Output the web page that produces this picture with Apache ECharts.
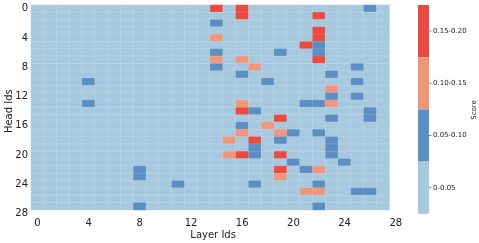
<!DOCTYPE html>
<html>
<head>
<meta charset="utf-8">
<script src="https://cdn.jsdelivr.net/npm/echarts@6/dist/echarts.min.js"></script>
<style>
html,body{margin:0;padding:0;background:#fff;}
#c{width:479px;height:243px;}
</style>
</head>
<body>
<div id="c"></div>
<script>
// Axis categories (tick positions 0..28; cells 0..27)
const layerIds = Array.from({length: 29}, (_, i) => String(i));
const headIds = Array.from({length: 29}, (_, i) => String(i));
const nLayers = 28;
const nHeads = 28;

// Background score for all cells not listed below (0-0.05 band)
const baseScore = 0.02;

// Cells: [layer, head, score]
const blueCells = [
  [26,0,0.07],[14,2,0.07],[22,5,0.07],[14,6,0.07],[19,6,0.07],[22,6,0.07],
  [14,8,0.07],[25,8,0.07],[16,9,0.07],[23,9,0.07],[4,10,0.07],[18,10,0.07],
  [25,10,0.07],[23,12,0.07],[25,12,0.07],[4,13,0.07],[21,13,0.07],[22,13,0.07],
  [17,14,0.07],[26,14,0.07],[23,15,0.07],[26,15,0.07],[16,16,0.07],[20,17,0.07],
  [22,17,0.07],[19,18,0.07],[23,18,0.07],[17,19,0.07],[23,19,0.07],[17,20,0.07],
  [23,20,0.07],[20,21,0.07],[24,21,0.07],[8,22,0.07],[21,22,0.07],[8,23,0.07],
  [11,24,0.07],[17,24,0.07],[22,24,0.07],[25,25,0.07],[26,25,0.07],[8,27,0.07],
  [22,27,0.07]
];
const salmonCells = [
  [14,4,0.12],[14,7,0.12],[16,7,0.12],[17,8,0.12],[23,11,0.12],[16,13,0.12],
  [23,13,0.12],[18,16,0.12],[16,17,0.12],[19,17,0.12],[15,18,0.12],[15,20,0.12],
  [22,22,0.12],[19,23,0.12],[21,25,0.12],[22,25,0.12]
];
const redCells = [
  [14,0,0.17],[16,0,0.17],[16,1,0.17],[22,1,0.17],[22,3,0.17],[22,4,0.17],
  [21,5,0.17],[22,7,0.17],[16,14,0.17],[19,15,0.17],[17,18,0.17],[16,20,0.17],
  [19,20,0.17],[19,22,0.17]
];

const bandLabels = ['0-0.05', '0.05-0.10', '0.10-0.15', '0.15-0.20'];
const bandEdges = [0, 0.05, 0.10, 0.15, 0.20];
const bandColors = ['#a6c9df', '#5b8fc3', '#f0977b', '#eb4a40'];

// Build heatmap data
const grid = [];
for (let y = 0; y < nHeads; y++) {
  grid.push(new Array(nLayers).fill(baseScore));
}
[...blueCells, ...salmonCells, ...redCells].forEach(([x, y, v]) => { grid[y][x] = v; });
const data = [];
for (let y = 0; y < nHeads; y++) {
  for (let x = 0; x < nLayers; x++) {
    data.push([x, y, grid[y][x]]);
  }
}

const pieces = bandLabels.map((l, i) => ({
  min: bandEdges[i], max: bandEdges[i + 1], label: l, color: bandColors[i]
}));

// Colorbar layout
const cbLeft = 418, cbTop = 5, cbW = 11, cbH = 52.2;
const cbTicks = bandLabels.map((_, i) => ({
  type: 'line',
  shape: {x1: cbLeft + cbW, y1: cbTop + (i + 0.5) * cbH, x2: cbLeft + cbW + 2.5, y2: cbTop + (i + 0.5) * cbH},
  style: {stroke: '#333', lineWidth: 0.6}
}));

const font = 'DejaVu Sans';
const chart = echarts.init(document.getElementById('c'), null, {renderer: 'canvas'});
chart.setOption({
  animation: false,
  backgroundColor: '#ffffff',
  grid: {left: 31, top: 5, width: 371.2, height: 212.3, containLabel: false, outerBoundsMode: 'none'},
  xAxis: {
    type: 'category',
    data: layerIds,
    name: 'Layer Ids',
    nameLocation: 'middle',
    nameGap: 13,
    nameMoveOverlap: false,
    nameTextStyle: {fontFamily: font, fontSize: 10, color: '#222', padding: [0, 7, 0, 0]},
    axisLine: {show: false},
    axisTick: {show: false},
    splitLine: {show: false},
    axisLabel: {interval: 3, margin: 1, fontFamily: font, fontSize: 10, color: '#222'}
  },
  yAxis: {
    type: 'category',
    data: headIds,
    inverse: true,
    name: 'Head Ids',
    nameLocation: 'middle',
    nameGap: 17,
    nameMoveOverlap: false,
    nameTextStyle: {fontFamily: font, fontSize: 10, color: '#222', padding: [0, 0, 0, 0]},
    axisLine: {show: false},
    axisTick: {show: false},
    splitLine: {show: false},
    axisLabel: {interval: 3, margin: 3, fontFamily: font, fontSize: 10, color: '#222'}
  },
  visualMap: {
    type: 'piecewise',
    dimension: 2,
    pieces: pieces,
    orient: 'vertical',
    align: 'left',
    left: cbLeft,
    top: cbTop,
    padding: 0,
    itemWidth: cbW,
    itemHeight: cbH,
    itemGap: 0,
    itemSymbol: 'rect',
    textGap: 4,
    textStyle: {fontFamily: font, fontSize: 7, color: '#222'},
    hoverLink: false,
    selectedMode: false
  },
  graphic: cbTicks.concat([{
    type: 'text',
    x: 474,
    y: 110,
    rotation: Math.PI / 2,
    style: {text: 'Score', fontFamily: font, fontSize: 7, fill: '#222', textAlign: 'center', textVerticalAlign: 'middle'}
  }]),
  series: [{
    type: 'heatmap',
    data: data,
    itemStyle: {borderColor: 'rgba(255,255,255,0.12)', borderWidth: 1},
    emphasis: {disabled: true}
  }]
});
</script>
</body>
</html>
